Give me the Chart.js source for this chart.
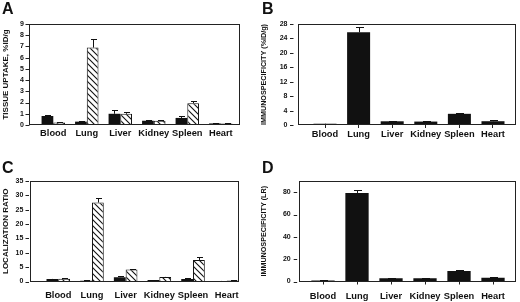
<!DOCTYPE html>
<html>
<head>
<meta charset="utf-8">
<script src="https://cdn.jsdelivr.net/npm/chart.js@4.4.1/dist/chart.umd.min.js"></script>
<style>
  body { margin: 0; background: #fff; }
  #fig { position: relative; width: 520px; height: 302px; }
  #fig canvas { position: absolute; }
</style>
</head>
<body>
<div id="fig">
  <canvas id="panelA" width="260" height="151" style="left:0;top:0"></canvas>
  <canvas id="panelB" width="260" height="151" style="left:260px;top:0"></canvas>
  <canvas id="panelC" width="260" height="151" style="left:0;top:151px"></canvas>
  <canvas id="panelD" width="260" height="151" style="left:260px;top:151px"></canvas>
</div>
<script>
const organs = ['Blood', 'Lung', 'Liver', 'Kidney', 'Spleen', 'Heart'];

// A: tissue uptake, %ID/g  (solid and hatched bars, error = +SD above the bar)
const uptakeSolid = [0.8, 0.3, 1.0, 0.38, 0.63, 0.14];
const uptakeSolidErr = [0.05, 0.04, 0.3, 0.1, 0.17, 0.01];
const uptakeHatched = [0.23, 6.9, 1.0, 0.38, 1.93, 0.14];
const uptakeHatchedErr = [0.07, 0.72, 0.13, 0.03, 0.2, 0.01];
const ticksA = [0, 1, 2, 3, 4, 5, 6, 7, 8, 9];

// B: immunospecificity (%ID/g)
const immunoId = [0.35, 25.7, 1.03, 0.95, 3.1, 1.05];
const immunoIdErr = [0.05, 1.4, 0.17, 0.1, 0.35, 0.3];
const ticksB = [0, 4, 8, 12, 16, 20, 24, 28];

// C: localization ratio
const locSolid = [0.9, 0.3, 1.5, 0.5, 0.9, 0.2];
const locSolidErr = [0.1, 0.05, 0.25, 0.1, 0.15, 0.02];
const locHatched = [0.95, 27.5, 4.2, 1.6, 7.5, 0.35];
const locHatchedErr = [0.1, 1.7, 0.3, 0.1, 1.0, 0.05];
const ticksC = [0, 5, 10, 15, 20, 25, 30, 35];

// D: immunospecificity (LR)
const immunoLr = [0.8, 79.3, 3.0, 2.8, 9.3, 3.3];
const immunoLrErr = [0.1, 2.3, 0.3, 0.2, 0.6, 0.7];
const ticksD = [0, 20, 40, 60, 80];

const FONT = '"Liberation Sans", Arial, sans-serif';
const INK = '#111';

function hatchPattern() {
    const c = document.createElement('canvas');
    c.width = 6; c.height = 6;
    const g = c.getContext('2d');
    g.fillStyle = '#fff';
    g.fillRect(0, 0, 6, 6);
    g.strokeStyle = INK;
    g.lineWidth = 1.1;
    g.beginPath();
    g.moveTo(-1, -1); g.lineTo(7, 7);
    g.moveTo(-4, 2); g.lineTo(1, 7);
    g.moveTo(5, -1); g.lineTo(8, 2);
    g.stroke();
    return g.createPattern(c, 'repeat');
}

// frame, y tick marks, error bars and the panel letter
const panelPlugin = {
    id: 'panel',
    afterDatasetsDraw(chart, args, opts) {
        const ctx = chart.ctx;
        const y = chart.scales.y;
        const a = chart.chartArea;
        ctx.save();
        ctx.strokeStyle = INK;
        ctx.lineWidth = 1;
        ctx.beginPath();
        chart.data.datasets.forEach(function(ds, di) {
            chart.getDatasetMeta(di).data.forEach(function(bar, i) {
                const err = ds.errors[i];
                if (!err) return;
                const top = Math.round(y.getPixelForValue(ds.data[i].y + err)) + 0.5;
                const x = Math.round(bar.x) + 0.5;
                ctx.moveTo(x, bar.y);
                ctx.lineTo(x, top);
                ctx.moveTo(x - opts.cap, top);
                ctx.lineTo(x + opts.cap + 1, top);
            });
        });
        ctx.stroke();

        const l = Math.round(a.left) + 0.5, r = Math.round(a.right) - 0.5;
        const t = Math.round(a.top) + 0.5, b = Math.round(a.bottom) - 0.5;
        ctx.strokeStyle = '#222';
        ctx.strokeRect(l, t, r - l, b - t);
        ctx.beginPath();
        y.ticks.forEach(function(tk) {
            const py = Math.round(y.getPixelForValue(tk.value)) + 0.5;
            ctx.moveTo(l - opts.gap - opts.len, py);
            ctx.lineTo(l - opts.gap, py);
        });
        ctx.stroke();

        ctx.fillStyle = INK;
        ctx.font = 'bold 16px ' + FONT;
        ctx.textBaseline = 'alphabetic';
        ctx.fillText(opts.letter, 2, opts.letterY);
        ctx.restore();
    }
};

function makePanel(id, p) {
    const hatch = hatchPattern();
    const datasets = p.series.map(function(s) {
        return {
            data: s.values.map(function(v, i) { return { x: i, y: v }; }),
            errors: s.errors,
            backgroundColor: s.hatched ? hatch : INK,
            borderColor: INK,
            borderWidth: s.hatched ? 1 : 0,
            categoryPercentage: p.catPct,
            barPercentage: 1
        };
    });

    return new Chart(document.getElementById(id), {
        type: 'bar',
        data: { datasets: datasets },
        plugins: [panelPlugin],
        options: {
            responsive: false,
            animation: false,
            events: [],
            layout: { padding: { left: 0, top: p.area.top, right: 260 - p.area.right, bottom: 0 } },
            plugins: {
                legend: { display: false },
                tooltip: { enabled: false },
                panel: { letter: p.letter, letterY: p.letterY, cap: p.cap, gap: p.tickGap, len: p.tickLen }
            },
            scales: {
                x: {
                    type: 'linear',
                    offset: false,
                    min: p.xMin,
                    max: p.xMax,
                    afterBuildTicks: function(s) { s.ticks = organs.map(function(o, i) { return { value: i }; }); },
                    afterFit: function(s) { s.height = 151 - p.area.bottom; },
                    border: { display: false },
                    grid: { offset: false, drawOnChartArea: false, drawTicks: p.xTicks, tickLength: 3, color: '#222' },
                    ticks: {
                        autoSkip: false,
                        maxRotation: 0,
                        padding: p.xPad,
                        color: INK,
                        font: { family: FONT, size: 9.3, weight: 'bold' },
                        callback: function(v) { return organs[v]; }
                    }
                },
                y: {
                    min: 0,
                    max: p.yMax,
                    afterBuildTicks: function(s) { s.ticks = p.yTicks.map(function(v) { return { value: v }; }); },
                    afterFit: function(s) { s.width = p.area.left; },
                    border: { display: false },
                    grid: { display: false, drawTicks: false },
                    ticks: {
                        autoSkip: false,
                        padding: p.yPad,
                        color: INK,
                        font: { family: FONT, size: 7, weight: 'bold' }
                    },
                    title: {
                        display: true,
                        text: p.yTitle,
                        color: INK,
                        padding: { top: p.titlePad, bottom: 0 },
                        font: { family: FONT, size: p.titleSize, weight: 'bold' }
                    }
                }
            }
        }
    });
}

makePanel('panelA', {
    letter: 'A', letterY: 13.5,
    series: [
        { values: uptakeSolid, errors: uptakeSolidErr },
        { values: uptakeHatched, errors: uptakeHatchedErr, hatched: true }
    ],
    area: { left: 29, right: 240, top: 24, bottom: 125 },
    xMin: -0.725, xMax: 5.573, catPct: 0.7,
    yMax: 9, yTicks: ticksA,
    yTitle: 'TISSUE UPTAKE, %ID/g', titleSize: 8, titlePad: 1,
    yPad: 5, tickGap: 0, tickLen: 4,
    xTicks: false, xPad: 2.5, cap: 2.5
});

makePanel('panelB', {
    letter: 'B', letterY: 13.5,
    series: [ { values: immunoId, errors: immunoIdErr } ],
    area: { left: 38, right: 256, top: 24, bottom: 125 },
    xMin: -0.804, xMax: 5.685, catPct: 0.685,
    yMax: 28, yTicks: ticksB,
    yTitle: 'IMMUNOSPECIFICITY (%ID/g)', titleSize: 7.2, titlePad: 0,
    yPad: 10.5, tickGap: 5, tickLen: 3.5,
    xTicks: true, xPad: 1, cap: 3.5
});

makePanel('panelC', {
    letter: 'C', letterY: 21.7,
    series: [
        { values: locSolid, errors: locSolidErr },
        { values: locHatched, errors: locHatchedErr, hatched: true }
    ],
    area: { left: 30, right: 239, top: 30, bottom: 130.5 },
    xMin: -0.840, xMax: 5.365, catPct: 0.7,
    yMax: 35, yTicks: ticksC,
    yTitle: 'LOCALIZATION RATIO', titleSize: 8, titlePad: 0.7,
    yPad: 6.7, tickGap: 1.5, tickLen: 3.5,
    xTicks: false, xPad: 8.5, cap: 2.5
});

makePanel('panelD', {
    letter: 'D', letterY: 21.7,
    series: [ { values: immunoLr, errors: immunoLrErr } ],
    area: { left: 39, right: 256, top: 30, bottom: 130.5 },
    xMin: -0.706, xMax: 5.676, catPct: 0.685,
    yMax: 90, yTicks: ticksD,
    yTitle: 'IMMUNOSPECIFICITY (LR)', titleSize: 7.2, titlePad: 0,
    yPad: 8.3, tickGap: 2.3, tickLen: 3.5,
    xTicks: true, xPad: 6, cap: 3.5
});
</script>
</body>
</html>
